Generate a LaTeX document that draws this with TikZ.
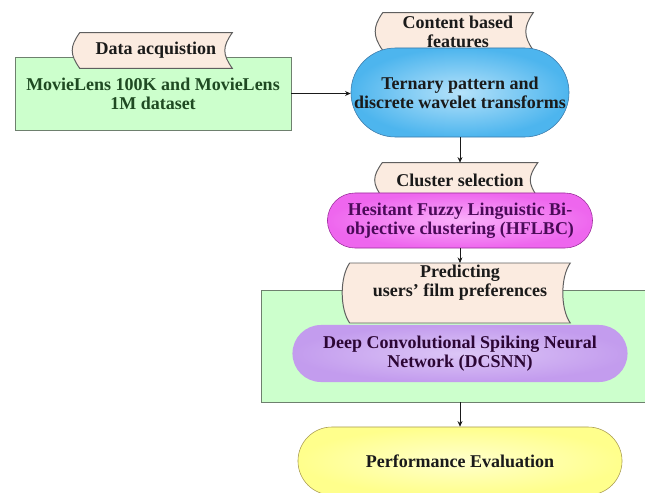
\documentclass[tikz,border=0pt]{standalone}
\usepackage{fontspec}
\setmainfont{Liberation Serif}
\usetikzlibrary{arrows.meta, shapes.misc}
\definecolor{fcgreen}{HTML}{CCFFCC}
\definecolor{fcgreenln}{HTML}{6E806E}
\definecolor{fcgreentx}{HTML}{1F4A22}
\definecolor{fcpeach}{HTML}{FBEBE0}
\definecolor{fcline}{HTML}{5F5F5F}
\definecolor{fcblue}{HTML}{4DB5EE}
\definecolor{fcbluein}{HTML}{B5E2FA}
\definecolor{fcblueln}{HTML}{3A78A8}
\definecolor{fcmag}{HTML}{EE66EE}
\definecolor{fcmagin}{HTML}{FAB0FA}
\definecolor{fcmagln}{HTML}{9A2E9A}
\definecolor{fcmagtx}{HTML}{4A0A58}
\definecolor{fclav}{HTML}{C39CEE}
\definecolor{fclavin}{HTML}{DCC6F6}
\definecolor{fcyel}{HTML}{FFFF8C}
\definecolor{fcyelin}{HTML}{FFFFCC}
\definecolor{fcyelln}{HTML}{A89A50}
\definecolor{fcdark}{HTML}{1A1A1A}
\pgfdeclarelayer{bgrect}
\pgfdeclarelayer{bgband}
\pgfsetlayers{bgrect,bgband,main}

\begin{document}
\begin{tikzpicture}[
    x=0.025cm, y=-0.025cm,
    line width=0.7pt,
    txt/.style={font=\fontsize{12.8}{13.5}\selectfont\bfseries, align=center, text=fcdark},
    panel/.style={draw=fcgreenln, fill=fcgreen, inner sep=0pt},
    band/.style={txt, inner sep=1pt},
    bandline/.style={draw=fcline, fill=fcpeach, line width=0.7pt},
    pill/.style={rounded rectangle, txt, inner sep=0pt},
    flow/.style={fcdark, line width=0.6pt, -{Stealth[length=4pt, width=3.5pt]}},
  ]
  \useasboundingbox (0,0) rectangle (645,493);

  % ===== green panels =====
  \begin{pgfonlayer}{bgrect}
    \node[panel, txt, text=fcgreentx, minimum width=6.9cm, minimum height=1.825cm]
      (data) at (153,93.5) {MovieLens 100K and MovieLens\\1M dataset};
    \node[panel, minimum width=9.95cm, minimum height=2.8cm] (predbox) at (460,346) {};
  \end{pgfonlayer}

  % ===== banners =====
  \node[band, minimum width=3.8cm, minimum height=0.875cm] (acq) at (156,50.5) {Data acquistion};
  \node[band, minimum width=3.75cm, minimum height=0.925cm] (feat) at (458,31.5) {Content based\\features};
  \node[band, minimum width=3.875cm, minimum height=0.85cm] (clus) at (460,180) {Cluster selection};
  \node[band, anchor=north, minimum width=5.5cm] (pred) at (460,263) {Predicting\\users' film preferences};
  \coordinate (predfoot) at (460,323);
  \begin{pgfonlayer}{bgband}
    \foreach \b/\f in {acq/acq.south, feat/feat.south, clus/clus.south, pred/predfoot}
      \draw[bandline] (\b.north west) .. controls +(-10,14) and +(-10,-14) .. (\b.west |- \f)
        -- (\b.east |- \f) .. controls +(-10,-14) and +(-10,14) .. (\b.north east) -- cycle;
  \end{pgfonlayer}

  % ===== process pills =====
  \node[pill, draw=fcblueln, inner color=fcbluein, outer color=fcblue,
        minimum width=5.45cm, minimum height=2.225cm] (tern) at (460,92.5)
    {Ternary pattern and\\discrete wavelet transforms};
  \node[pill, draw=fcmagln, inner color=fcmagin, outer color=fcmag, text=fcmagtx,
        minimum width=6.625cm, minimum height=1.375cm] (hflbc) at (460,220.5)
    {Hesitant Fuzzy Linguistic Bi-\\objective clustering (HFLBC)};
  \node[pill, inner color=fclavin, outer color=fclav, text=fcmagtx!60!black,
        minimum width=8.375cm, minimum height=1.425cm] (dcsnn) at (460,353.5)
    {Deep Convolutional Spiking Neural\\Network (DCSNN)};
  \node[pill, draw=fcyelln, inner color=fcyelin, outer color=fcyel,
        minimum width=8.1cm, minimum height=1.7cm] (perf) at (460,461)
    {Performance Evaluation};

  % ===== arrows =====
  \draw[flow] (data.east) -- (data.east -| tern.west);
  \draw[flow] (tern.south) -- (clus.north);
  \draw[flow] (hflbc.south) -- (pred.north);
  \draw[flow] (predbox.south) -- (perf.north);
\end{tikzpicture}
\end{document}
